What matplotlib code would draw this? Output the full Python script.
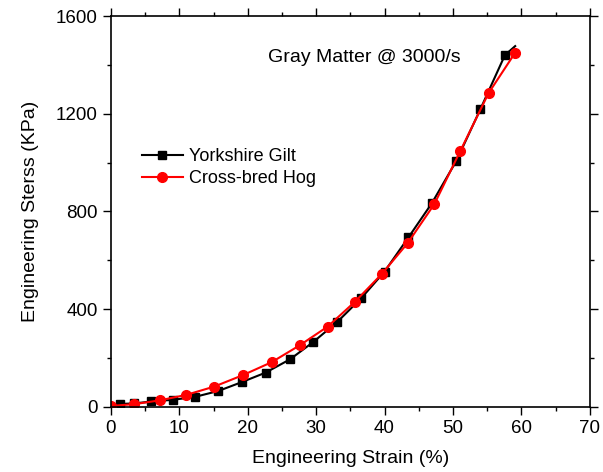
import matplotlib
matplotlib.use("Agg")
import matplotlib.pyplot as plt
from matplotlib.ticker import MultipleLocator

plt.rcParams['font.family'] = ['Liberation Sans', 'DejaVu Sans']

# Yorkshire Gilt (czarne kwadraty); ostatni punkt bez znacznika
gilt_strain = [1.3, 3.4, 5.9, 9.1, 12.3, 15.7, 19.1, 22.6, 26.2, 29.6, 33.1,
               36.6, 40.0, 43.5, 46.9, 50.5, 54.0, 57.6, 59.1]
gilt_stress = [12, 14, 22, 29, 41, 65, 101, 140, 195, 266, 348,
               445, 554, 694, 833, 1007, 1218, 1440, 1477]

# Cross-bred Hog (czerwone kółka)
hog_strain = [0, 3.4, 7.2, 11.0, 15.1, 19.3, 23.5, 27.6, 31.7, 35.7,
              39.6, 43.4, 47.3, 51.1, 55.2, 59.1]
hog_stress = [4, 11, 27, 49, 83, 130, 183, 252, 329, 431,
              544, 671, 831, 1049, 1284, 1450]

fig = plt.figure(figsize=(6.03, 4.72), dpi=100)
ax = fig.add_axes([0.184, 0.138, 0.794, 0.828])

ax.plot(gilt_strain, gilt_stress, color="black", marker="s", markersize=6,
        linewidth=1.5, markevery=list(range(len(gilt_strain) - 1)),
        label="Yorkshire Gilt")
ax.plot(hog_strain, hog_stress, color="red", marker="o", markersize=7,
        linewidth=1.5, label="Cross-bred Hog")

ax.set_xlim(0, 70)
ax.set_ylim(0, 1600)
ax.xaxis.set_major_locator(MultipleLocator(10))
ax.xaxis.set_minor_locator(MultipleLocator(5))
ax.yaxis.set_major_locator(MultipleLocator(400))
ax.yaxis.set_minor_locator(MultipleLocator(200))
ax.tick_params(which="both", direction="out", top=True, right=True,
               labelsize=13.5, width=1)
ax.tick_params(which="major", length=6)
ax.tick_params(which="minor", length=3)
for s in ax.spines.values():
    s.set_linewidth(1.2)

ax.set_xlabel("Engineering Strain (%)", fontsize=14, labelpad=9)
ax.set_ylabel("Engineering Sterss (KPa)", fontsize=14, labelpad=12)

ax.text(0.53, 0.893, "Gray Matter @ 3000/s", transform=ax.transAxes,
        ha="center", va="center", fontsize=14)

ax.legend(loc="upper left", bbox_to_anchor=(0.03, 0.703), frameon=False,
          fontsize=13, handlelength=2.3, handletextpad=0.3, labelspacing=0.28)

fig.savefig("out.png", dpi=100)
